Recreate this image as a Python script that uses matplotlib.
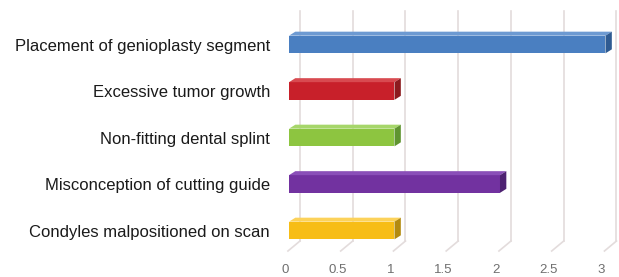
import matplotlib.pyplot as plt
from matplotlib.patches import Polygon

# data (bottom to top)
labels = ["Condyles malpositioned on scan", "Misconception of cutting guide",
          "Non-fitting dental splint", "Excessive tumor growth",
          "Placement of genioplasty segment"]
values = [1, 2, 1, 1, 3]
ticks = [0, 0.5, 1, 1.5, 2, 2.5, 3]
tick_labels = ["0", "0.5", "1", "1.5", "2", "2.5", "3"]

front_cols = ["#f7bd16", "#7232a0", "#8dc540", "#c8202a", "#4a7fc1"]
top_cols = ["#fcd25a", "#8a4fb8", "#a6d66a", "#d84a50", "#6d9ad2"]
side_cols = ["#b38a10", "#4e2272", "#5f9430", "#8c1a1e", "#2f5b92"]

plt.rcParams['font.family'] = ['Liberation Sans', 'DejaVu Sans']

fig = plt.figure(figsize=(6.19, 2.77), dpi=100)
left = 278.45 / 619
ax = fig.add_axes([left, 0, 1 - left, 1])
ax.set_xlim(-0.1, 3.128)
ax.set_ylim(-1.0, 4.957)

# perspective offsets (data units)
bdx = 0.104                # back wall shift
fdx, fdy = -0.114, -0.215  # floor diagonal
top_y, base_y = 4.72, -0.226
ddx, ddy = 0.06, 0.086     # bar depth
h = 0.38

grid_c = "#e3dcdc"
for t, lab in zip(ticks, tick_labels):
    xb = t + bdx
    ax.plot([xb, xb], [top_y, base_y], color=grid_c, lw=1.2, zorder=1)
    ax.plot([xb, xb + fdx], [base_y, base_y + fdy], color=grid_c, lw=1.2, zorder=1)
    ax.text(t - 0.04, -0.85, lab, ha="center", va="center",
            fontsize=9.5, color="#6f6f6f")

for i, v in enumerate(values):
    y0, y1 = i - h / 2, i + h / 2
    ax.barh(i, v, height=h, left=0, color=front_cols[i], zorder=3)
    top = Polygon([(0, y1), (v, y1), (v + ddx, y1 + ddy), (ddx, y1 + ddy)],
                  closed=True, facecolor=top_cols[i], edgecolor="none", zorder=3)
    side = Polygon([(v, y0), (v + ddx, y0 + ddy), (v + ddx, y1 + ddy), (v, y1)],
                   closed=True, facecolor=side_cols[i], edgecolor="none", zorder=3)
    ax.add_patch(top)
    ax.add_patch(side)

ax.set_yticks(range(len(labels)))
ax.set_yticklabels(labels, fontsize=12, color="#1a1a1a")
ax.tick_params(axis="y", length=0, pad=6.1)
ax.set_xticks([])
for s in ax.spines.values():
    s.set_visible(False)

fig.savefig("out.png", dpi=100)
